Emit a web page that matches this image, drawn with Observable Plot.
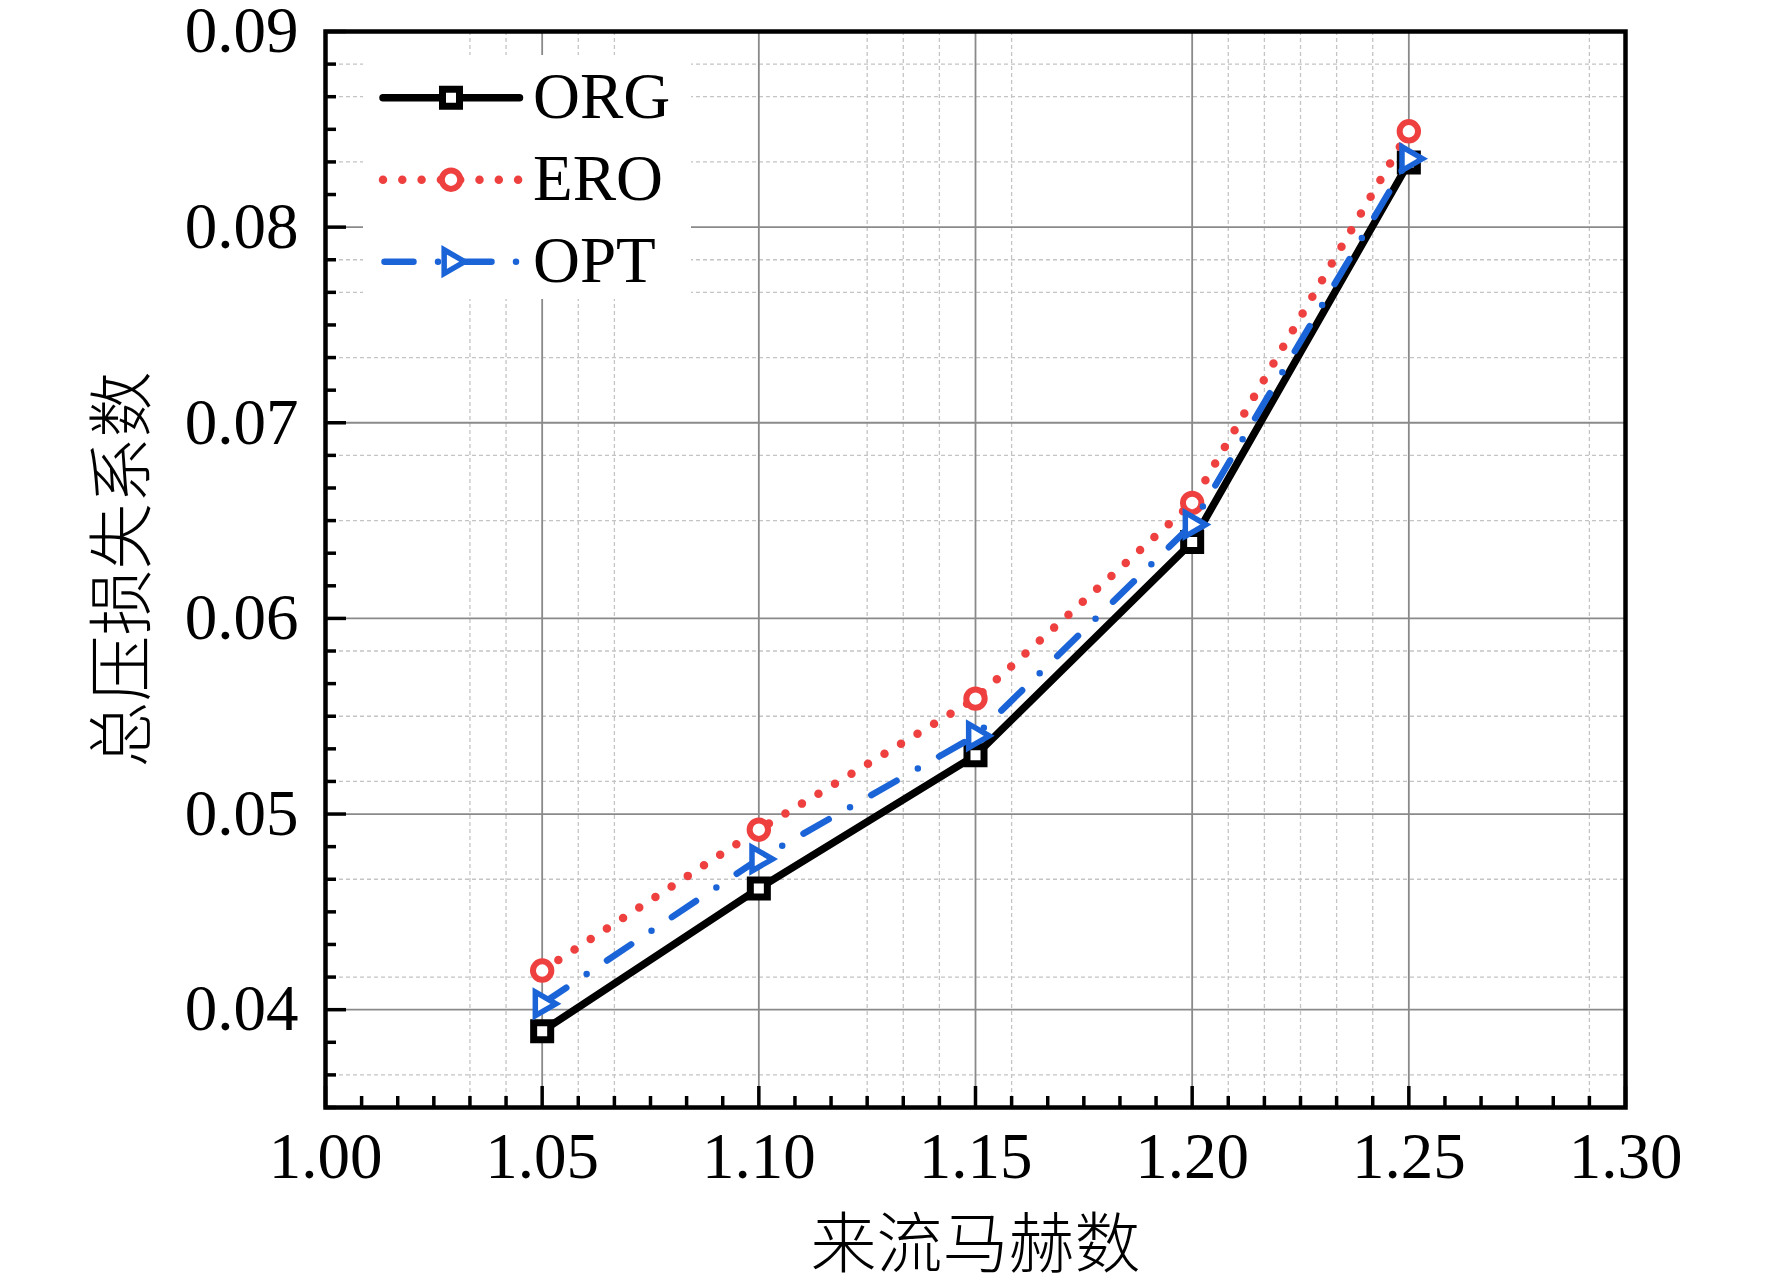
<!DOCTYPE html>
<html>
<head>
<meta charset="utf-8">
<script src="https://cdn.jsdelivr.net/npm/d3@7"></script>
<script src="https://cdn.jsdelivr.net/npm/@observablehq/plot@0.6"></script>
<style>
html, body { margin: 0; padding: 0; background: #ffffff; }
#chart svg { display: block; }
</style>
</head>
<body>
<div id="chart"></div>
<script>
// ---- data ----
const machNumbers = [1.05, 1.10, 1.15, 1.20, 1.25];
const orgValues = [0.0389, 0.0462, 0.0530, 0.0639, 0.0833];
const eroValues = [0.0420, 0.0492, 0.0559, 0.0659, 0.0849];
const optValues = [0.0403, 0.0477, 0.0540, 0.0648, 0.0835];
const seriesNames = ["ORG", "ERO", "OPT"];
const xTickValues = [1.00, 1.05, 1.10, 1.15, 1.20, 1.25, 1.30];
const xTickLabels = ["1.00", "1.05", "1.10", "1.15", "1.20", "1.25", "1.30"];
const yTickValues = [0.04, 0.05, 0.06, 0.07, 0.08, 0.09];
const yTickLabels = ["0.04", "0.05", "0.06", "0.07", "0.08", "0.09"];
const xDomain = [1.00, 1.30];
const yDomain = [0.035, 0.09];
const xTitle = "来流马赫数";
const yTitle = "总压损失系数";
const minorDivisions = 6;
// minor positions (in minor steps) where a dashed grid line is visible
const xMinorGridSteps = [4, 5, 7, 8, 15, 16, 17, 19, 25, 26, 27, 28, 29, 35];      // from 1.00
const yMinorGridStepsFromTop = [1, 2, 4, 7, 8, 10, 13, 15, 19, 21, 23, 26, 29, 32]; // from 0.09

// ---- layout ----
const W = 1772, H = 1285;
const mL = 325, mR = 147, mT = 31, mB = 178;
const plotW = W - mL - mR, plotH = H - mT - mB;
const xPx = (xDomain[1] - xDomain[0]) / plotW;
const yPx = (yDomain[1] - yDomain[0]) / plotH;
const xStep = 0.05 / minorDivisions, yStep = 0.01 / minorDivisions;

function minorTicks(domain, step, majors) {
  const n = Math.round((domain[1] - domain[0]) / step);
  return d3.range(0, n + 1).map(i => domain[0] + i * step)
    .filter(v => !majors.some(m => Math.abs(m - v) < step / 10));
}
const xMinor = minorTicks(xDomain, xStep, xTickValues);
const yMinor = minorTicks(yDomain, yStep, yTickValues);
const xMinorGrid = xMinorGridSteps.map(s => xDomain[0] + s * xStep);
const yMinorGrid = yMinorGridStepsFromTop.map(s => yDomain[1] - s * yStep);

// right-pointing triangle symbol
const triangleRight = {
  draw(context, size) {
    const h = Math.sqrt(size / (3 * Math.sqrt(3)));
    context.moveTo(2 * h, 0);
    context.lineTo(-h, Math.sqrt(3) * h);
    context.lineTo(-h, -Math.sqrt(3) * h);
    context.closePath();
  }
};

const valuesBySeries = {ORG: orgValues, ERO: eroValues, OPT: optValues};
const styles = {
  ORG: {stroke: "#000000", lineWidth: 7.5, dash: null, symbol: "square", r: 9.6, markerWidth: 7},
  ERO: {stroke: "#ef4040", lineWidth: 8.5, dash: "0 19.3", symbol: "circle", r: 9.2, markerWidth: 6},
  OPT: {stroke: "#1b64d8", lineWidth: 6.5, dash: "29 24.5 0 24.5", symbol: triangleRight, r: 8.8, markerWidth: 5.5}
};

const rows = seriesNames.flatMap(s => machNumbers.map((m, i) => ({series: s, mach: m, value: valuesBySeries[s][i]})));

const seriesMarks = seriesNames.flatMap(s => {
  const st = styles[s];
  const data = rows.filter(d => d.series === s);
  return [
    Plot.line(data, {x: "mach", y: "value", stroke: st.stroke, strokeWidth: st.lineWidth,
      strokeDasharray: st.dash, strokeLinecap: "round", strokeLinejoin: "round"}),
    Plot.dot(data, {x: "mach", y: "value", symbol: st.symbol, r: st.r, stroke: st.stroke,
      strokeWidth: st.markerWidth, fill: "white", strokeLinejoin: "miter"})
  ];
});

const serif = "'Liberation Serif', 'Times New Roman', serif";
const cjk = "'Noto Sans CJK SC', 'Noto Sans CJK JP', sans-serif";

const chart = Plot.plot({
  width: W, height: H,
  marginLeft: mL, marginRight: mR, marginTop: mT, marginBottom: mB,
  x: {domain: xDomain, label: null},
  y: {domain: yDomain, label: null},
  style: {fontFamily: serif, fontSize: "65px", background: "white", color: "black", overflow: "visible"},
  marks: [
    Plot.gridX(xMinorGrid, {stroke: "#c4c4c4", strokeOpacity: 1, strokeWidth: 1.3, strokeDasharray: "4 3"}),
    Plot.gridY(yMinorGrid, {stroke: "#c4c4c4", strokeOpacity: 1, strokeWidth: 1.3, strokeDasharray: "4 3"}),
    Plot.gridX(xTickValues, {stroke: "#8a8a8a", strokeOpacity: 1, strokeWidth: 1.8}),
    Plot.gridY(yTickValues, {stroke: "#8a8a8a", strokeOpacity: 1, strokeWidth: 1.8}),
    Plot.ruleX(xTickValues, {x: d => d, y1: yDomain[0], y2: yDomain[0] + 21 * yPx, stroke: "black", strokeWidth: 3.5}),
    Plot.ruleX(xMinor, {x: d => d, y1: yDomain[0], y2: yDomain[0] + 11 * yPx, stroke: "black", strokeWidth: 3.5}),
    Plot.ruleY(yTickValues, {y: d => d, x1: xDomain[0], x2: xDomain[0] + 21 * xPx, stroke: "black", strokeWidth: 3.5}),
    Plot.ruleY(yMinor, {y: d => d, x1: xDomain[0], x2: xDomain[0] + 11 * xPx, stroke: "black", strokeWidth: 3.5}),
    Plot.axisX(xTickValues, {anchor: "bottom", tickSize: 0, tickPadding: 24, label: null,
      tickFormat: d => xTickLabels[xTickValues.indexOf(d)], fontSize: 65}),
    Plot.axisY(yTickValues, {anchor: "left", tickSize: 0, tickPadding: 27, label: null,
      tickFormat: d => yTickLabels[yTickValues.indexOf(d)], fontSize: 65}),
    Plot.text([xTitle], {text: d => d, frameAnchor: "bottom", textAnchor: "middle", lineAnchor: "middle",
      dy: 138, fontSize: 66, fontFamily: cjk, fontWeight: 300}),
    Plot.text([yTitle], {text: d => d, frameAnchor: "left", textAnchor: "middle", lineAnchor: "middle",
      rotate: -90, dx: -202, fontSize: 66, fontFamily: cjk, fontWeight: 300}),
    ...seriesMarks,
    Plot.frame({stroke: "black", strokeWidth: 4.5})
  ]
});

// ---- legend ----
const svg = d3.select(chart);
const lg = svg.append("g").attr("class", "legend");
lg.append("rect").attr("x", 363).attr("y", 55).attr("width", 328).attr("height", 244).attr("fill", "white");
const symbolFor = s => s === "square" ? d3.symbolSquare : s === "circle" ? d3.symbolCircle : s;
seriesNames.forEach((s, i) => {
  const st = styles[s];
  const y = 97.7 + i * 82;
  const x1 = s === "OPT" ? 384.5 : 383, x2 = s === "OPT" ? 517 : 519.5;
  lg.append("line").attr("x1", x1).attr("x2", x2).attr("y1", y).attr("y2", y)
    .attr("stroke", st.stroke).attr("stroke-width", st.lineWidth)
    .attr("stroke-linecap", "round").attr("stroke-dasharray", st.dash);
  lg.append("path").attr("transform", `translate(451,${y})`)
    .attr("d", d3.symbol(symbolFor(st.symbol), Math.PI * st.r * st.r)())
    .attr("fill", "white").attr("stroke", st.stroke).attr("stroke-width", st.markerWidth);
  lg.append("text").attr("x", 533).attr("y", y + 20.5).attr("text-anchor", "start")
    .attr("font-family", serif).attr("font-size", 65).attr("fill", "black").text(s);
});

document.getElementById("chart").appendChild(chart);
</script>
</body>
</html>
